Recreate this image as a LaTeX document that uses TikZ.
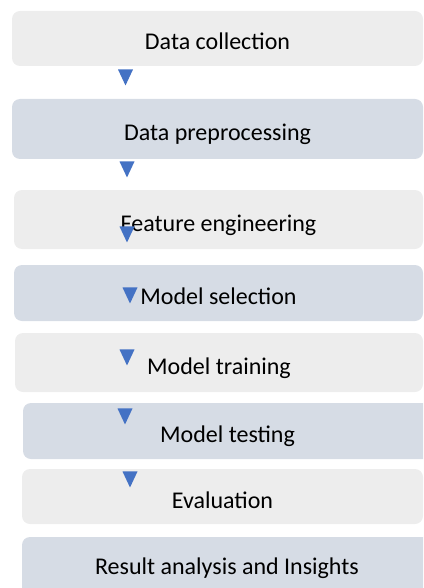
\documentclass[tikz,border=0pt]{standalone}
\usepackage{fontspec}
\setmainfont{Carlito}
\usetikzlibrary{shapes.geometric}
\definecolor{stepgray}{RGB}{237,237,237}
\definecolor{stepblue}{RGB}{214,220,229}
\definecolor{tipblue}{RGB}{68,114,196}
\tikzset{
  stage/.style     = {rounded corners=8pt, inner sep=0pt, text height=23pt, text depth=0pt,
                      font=\fontsize{24}{28}\selectfont},
  stagegray/.style = {stage, fill=stepgray},   % odd steps
  stageblue/.style = {stage, fill=stepblue},   % even steps
  downtip/.style   = {isosceles triangle, shape border rotate=-90, isosceles triangle stretches,
                      fill=tipblue, minimum width=15pt, minimum height=16pt, inner sep=0pt, anchor=apex},
}

\begin{document}
\begin{tikzpicture}[x=1pt, y=-1pt]
  \clip (0,0) rectangle (423,588);
  % the pipeline steps, top to bottom
  \node[stagegray, minimum width=411pt, minimum height=55pt] (collect)  at (217.5,38.5) {Data collection};
  \node[stageblue, minimum width=411pt, minimum height=60pt] (prep)     at (217.5,129)  {Data preprocessing};
  \node[stagegray, minimum width=409pt, minimum height=59pt] (feature)  at (218.5,219.5){Feature engineering};
  \node[stageblue, minimum width=409pt, minimum height=56pt] (select)   at (218.5,293)  {Model selection};
  \node[stagegray, minimum width=408pt, minimum height=59pt] (train)    at (219,362.5)  {Model training};
  \node[stageblue, minimum width=409pt, minimum height=56pt] (test)     at (227.5,431)  {Model testing};
  \node[stagegray, minimum width=401pt, minimum height=55pt] (eval)     at (222.5,496.5){Evaluation};
  \node[stageblue, minimum width=410pt, minimum height=63pt, text depth=12pt]
                                                                 (result)   at (227,568.5)  {Result analysis and Insights};
  % small arrow heads between the steps
  \node[downtip] (tip1) at (125.5,86) {};
  \node[downtip] (tip2) at (127,178)  {};
  \node[downtip] (tip3) at (127,243)  {};
  \node[downtip] (tip4) at (130,304)  {};
  \node[downtip] (tip5) at (127,366)  {};
  \node[downtip] (tip6) at (125,425)  {};
  \node[downtip] (tip7) at (130,488)  {};
\end{tikzpicture}
\end{document}
